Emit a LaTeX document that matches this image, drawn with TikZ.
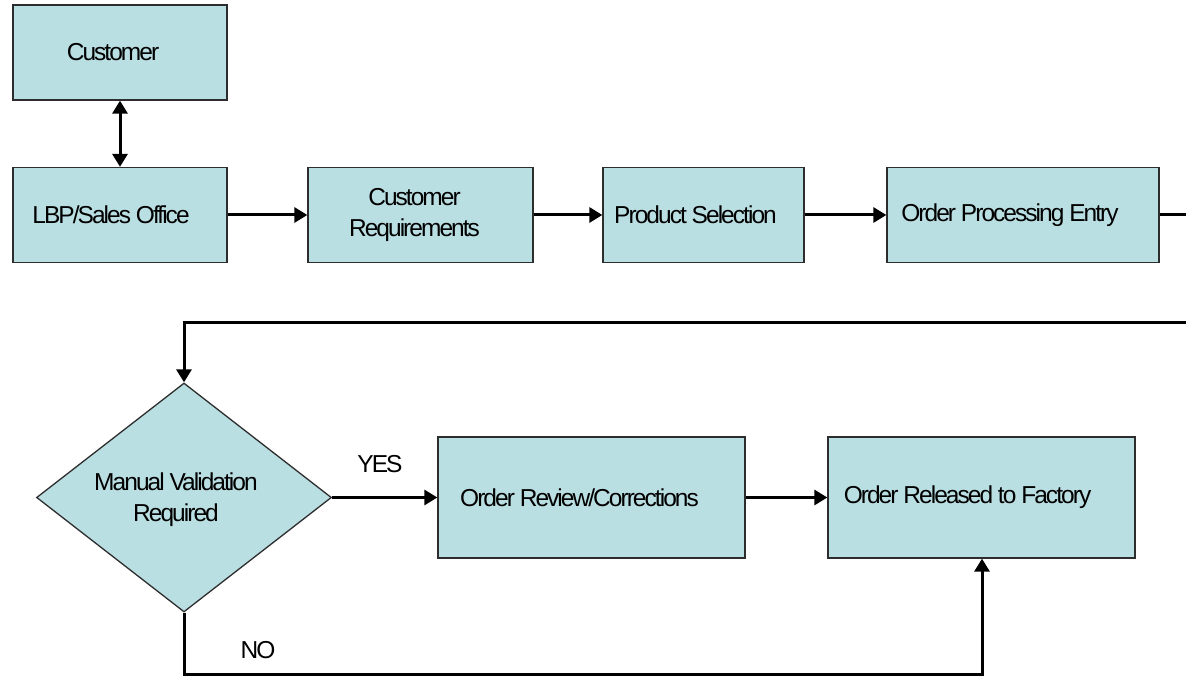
\documentclass[tikz,border=0pt]{standalone}
\usepackage{fontspec}
\setmainfont{Liberation Sans}[LetterSpace=-8]
\usetikzlibrary{arrows.meta,shapes.geometric}
\definecolor{boxfill}{RGB}{186,223,227}
\definecolor{boxline}{RGB}{45,45,45}
\begin{document}
\begin{tikzpicture}[x=1pt,y=-1pt,
  every node/.style={font=\fontsize{24.5}{31}\selectfont},
  procbox/.style={draw=boxline,line width=1.3pt,fill=boxfill,rectangle,inner sep=0pt,minimum width=#1},
  procbox/.default=214pt,
  decbox/.style={draw=boxline,line width=1.3pt,fill=boxfill,diamond,inner sep=0pt,minimum width=295pt,minimum height=229pt},
  txt/.style={inner sep=0pt,align=center},
  flow/.style={line width=3pt,-{Triangle[length=13pt,width=15pt]}},
  flowboth/.style={line width=3pt,{Triangle[length=13pt,width=15pt]}-{Triangle[length=13pt,width=15pt]}},
  plain/.style={line width=3pt}]
\useasboundingbox (0,0) rectangle (1186,676);
% boxes
\node[procbox=214pt,minimum height=95pt] (cust) at (120,52.5) {};
\node[procbox=214pt,minimum height=95pt] (lbp) at (120,215) {};
\node[procbox=225pt,minimum height=95pt] (req) at (420.5,215) {};
\node[procbox=201pt,minimum height=95pt] (sel) at (703.5,215) {};
\node[procbox=272pt,minimum height=95pt] (ope) at (1023,215) {};
\node[decbox] (dec) at (184,497.5) {};
\node[procbox=307pt,minimum height=121pt] (rev) at (591.5,497.5) {};
\node[procbox=307pt,minimum height=121pt] (rel) at (981.5,497.5) {};
% texts
\node[txt] (custT) at ([xshift=-7]cust.center) {Customer};
\node[txt] (lbpT) at ([xshift=-9]lbp.center) {LBP/Sales Office};
\node[txt] (reqT) at ([xshift=-6]req.center) {Customer\\Requirements};
\node[txt] (selT) at ([xshift=-8]sel.center) {Product Selection};
\node[txt] (opeT) at ([xshift=-13]ope.center) {Order Processing Entry};
\node[txt] (decT) at ([xshift=-8,yshift=-2]dec.center) {Manual Validation\\Required};
\node[txt] (revT) at ([xshift=-12]rev.center) {Order Review/Corrections};
\node[txt] (relT) at ([xshift=-14]rel.center) {Order Released to Factory};
\node[txt,anchor=base] (yes) at (380,472) {YES};
\node[txt,anchor=base] (no) at (258,658) {NO};
% coordinates
\coordinate (r1) at (1186,215);
\coordinate (r2) at (1186,323);
\coordinate (b1) at (982,674);
% connectors
\draw[flowboth] (cust.south) -- (lbp.north);
\draw[flow] (lbp.east) -- (req.west);
\draw[flow] (req.east) -- (sel.west);
\draw[flow] (sel.east) -- (ope.west);
\draw[plain] (ope.east) -- (r1);
\draw[flow] (r2) -- (dec.north |- r2) -- (dec.north);
\draw[flow] (dec.east) -- (rev.west);
\draw[flow] (rev.east) -- (rel.west);
\draw[flow] (dec.south) -- (dec.south |- b1) -- (b1) -- (b1 |- rel.south);
\end{tikzpicture}
\end{document}
